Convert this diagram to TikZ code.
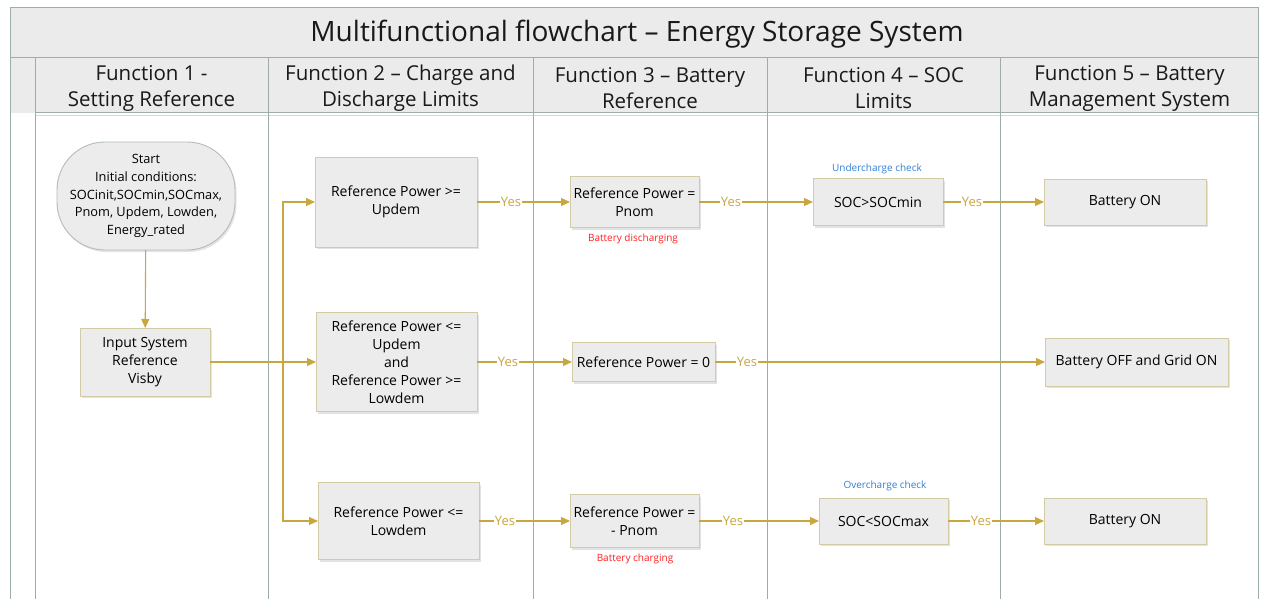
\documentclass[tikz,border=0pt]{standalone}
\usepackage{fontspec}
\setmainfont{Open Sans}
\usetikzlibrary{arrows.meta,shadows,calc}
\definecolor{lanecol}{HTML}{9DAEAA}
\definecolor{hdrfill}{HTML}{EBEBEB}
\definecolor{boxfill}{HTML}{ECECEC}
\definecolor{boxline}{HTML}{D3CBA6}
\definecolor{flow}{HTML}{C9A73F}
\definecolor{chk}{HTML}{2F7FD8}
\definecolor{warn}{HTML}{FF2020}
\begin{document}
\begin{tikzpicture}[x=1pt,y=-1pt,
  every node/.style={inner sep=0pt, outer sep=0pt},
  lane/.style={draw=lanecol, line width=1pt},
  hdr/.style={align=center, font=\fontsize{20.5}{26}\selectfont, text=black!90},
  proc/.style={draw=boxline, line width=0.9pt, fill=boxfill, align=center,
    font=\fontsize{14}{18}\selectfont, text=black,
    drop shadow={opacity=0.22, shadow xshift=1.5pt, shadow yshift=-2pt}},
  startbox/.style={proc, draw=lanecol!80, rounded corners=48pt, font=\fontsize{12.8}{17.7}\selectfont},
  conn/.style={draw=flow, line width=1.1pt, -{Triangle[length=9pt,width=8pt]}},
  yes/.style={fill=white, inner xsep=1pt, inner ysep=2pt, text=flow, font=\fontsize{13}{15}\selectfont},
  note/.style={font=\fontsize{10}{12}\selectfont}
]
\useasboundingbox (0,0) rectangle (1261,599);

% swimlane frame
\begin{scope}
  \clip (0,0) rectangle (1261,599);
  \fill[hdrfill] (10,8) rectangle (1258,113);
  \draw[lanecol!45, line width=1pt] (35,115.5) -- (1258,115.5);
  \draw[lane] (10,8) rectangle (1258,640);
  \draw[lane] (10,58) -- (1258,58);
  \draw[lane] (35,58) -- (35,640);
  \draw[lane] (35,113) -- (1258,113);
  \foreach \x in {268,533,767,1000} \draw[lane] (\x,58) -- (\x,640);
\end{scope}

% title and lane headers
\node[font=\fontsize{28}{32}\selectfont, text=black!90] (title) at (637,34) {Multifunctional flowchart – Energy Storage System};
\node[hdr] (h1) at (151.5,88) {Function 1 -\\Setting Reference};
\node[hdr] (h2) at (400.5,88) {Function 2 – Charge and\\Discharge Limits};
\node[hdr] (h3) at (650,88) {Function 3 – Battery\\Reference};
\node[hdr] (h4) at (883.5,88) {Function 4 – SOC\\Limits};
\node[hdr] (h5) at (1129.5,88) {Function 5 – Battery\\Management System};

% function 1
\node[startbox, minimum width=178pt, minimum height=108pt] (start) at (146,196)
  {Start\\Initial conditions:\\SOCinit,SOCmin,SOCmax,\\Pnom, Updem, Lowden,\\Energy\_rated};
\node[proc, minimum width=130pt, minimum height=68pt] (in) at (145,362)
  {Input System\\Reference\\Visby};

% function 2
\node[proc, minimum width=162pt, minimum height=90pt] (a1) at (396,202)
  {Reference Power >=\\Updem};
\node[proc, minimum width=161pt, minimum height=99pt] (a2) at (396.5,362)
  {Reference Power <=\\Updem\\and\\Reference Power >=\\Lowdem};
\node[proc, minimum width=161pt, minimum height=77pt] (a3) at (398.5,521)
  {Reference Power <=\\Lowdem};

% function 3
\node[proc, minimum width=129pt, minimum height=51pt] (b1) at (634.5,202)
  {Reference Power =\\Pnom};
\node[note, text=warn] (n1) at (633,239) {Battery discharging};
\node[proc, minimum width=143pt, minimum height=39pt] (b2) at (643.5,362)
  {Reference Power = 0};
\node[proc, minimum width=129pt, minimum height=53pt] (b3) at (634.5,521)
  {Reference Power =\\- Pnom};
\node[note, text=warn] (n3) at (635,559) {Battery charging};

% function 4
\node[proc, minimum width=130pt, minimum height=47pt] (c1) at (878,202)
  {SOC>SOCmin};
\node[note, text=chk] (n2) at (877,169) {Undercharge check};
\node[proc, minimum width=129pt, minimum height=46pt] (c3) at (883.5,521)
  {SOC<SOCmax};
\node[note, text=chk] (n4) at (885,486) {Overcharge check};

% function 5
\node[proc, minimum width=162pt, minimum height=46pt] (d1) at (1125,202) {Battery ON};
\node[proc, minimum width=183pt, minimum height=48pt] (d2) at (1136.5,362) {Battery OFF and Grid ON};
\node[proc, minimum width=162pt, minimum height=46pt] (d3) at (1125,521) {Battery ON};

% connectors
\coordinate (split) at (283,362);
\draw[conn] (start) -- (in);
\draw[conn] (in.east) -- (a2.west);
\draw[conn] (split) |- (a1.west);
\draw[conn] (split) |- (a3.west);

\draw[conn] (a1.east) -- (b1.west);
\draw[conn] (b1.east) -- (c1.west);
\draw[conn] (c1.east) -- (d1.west);
\draw[conn] (a2.east) -- (b2.west);
\draw[conn] (b2.east) -- (d2.west);
\draw[conn] (a3.east) -- (b3.west);
\draw[conn] (b3.east) -- (c3.west);
\draw[conn] (c3.east) -- (d3.west);

% connector labels
\node[yes] (y1) at ($(a1.east)+(34,0)$) {Yes};
\node[yes] (y2) at ($(b1.east)+(32,0)$) {Yes};
\node[yes] (y3) at ($(c1.east)+(29,0)$) {Yes};
\node[yes] (y4) at ($(a2.east)+(31,0)$) {Yes};
\node[yes] (y5) at ($(b2.east)+(32,0)$) {Yes};
\node[yes] (y6) at ($(a3.east)+(26,0)$) {Yes};
\node[yes] (y7) at ($(b3.east)+(34,0)$) {Yes};
\node[yes] (y8) at ($(c3.east)+(33,0)$) {Yes};
\end{tikzpicture}
\end{document}
